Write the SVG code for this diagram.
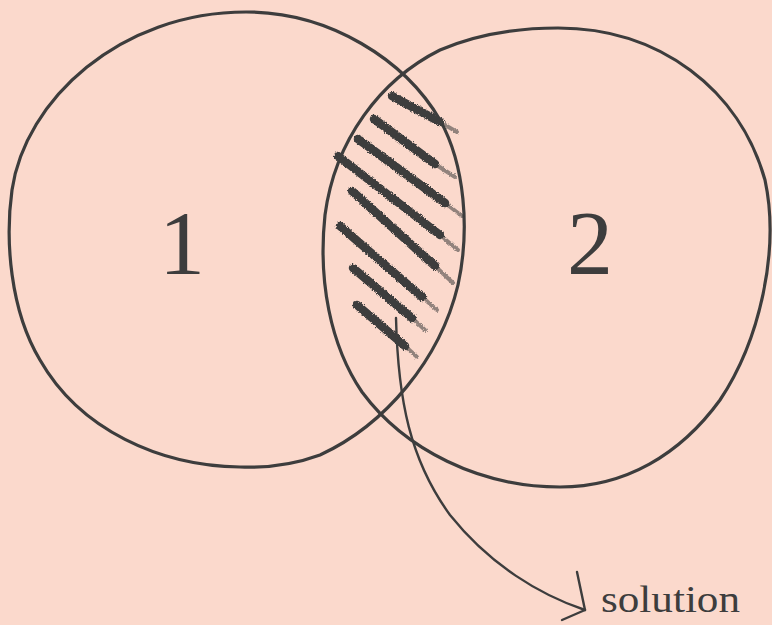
<svg xmlns="http://www.w3.org/2000/svg" width="772" height="625" viewBox="0 0 772 625">
<defs>
<style>
.ring{fill:none;stroke:#3d3d3d;stroke-width:3.2;stroke-linecap:round}
.hatch{fill:none;stroke:#3d3d3d;stroke-width:8.5;stroke-linecap:round}
.hatch2{fill:none;stroke:#3d3d3d;stroke-width:4;stroke-linecap:round;opacity:.55}
.conn{fill:none;stroke:#3d3d3d;stroke-width:2.4;stroke-linecap:round;stroke-linejoin:round}
.num{font-family:"Liberation Serif","DejaVu Serif",serif;font-size:92px;fill:#3d3d3d;text-anchor:middle}
.lbl{font-family:"Liberation Serif","DejaVu Serif",serif;font-size:37px;fill:#3d3d3d}
</style>
<filter id="rough" x="-10%" y="-10%" width="120%" height="120%">
<feTurbulence type="fractalNoise" baseFrequency="0.9" numOctaves="2" seed="3" result="n"/>
<feDisplacementMap in="SourceGraphic" in2="n" scale="3.5" xChannelSelector="R" yChannelSelector="G"/>
</filter>
</defs>
<rect width="772" height="625" fill="#fbd9cc"/>
<g id="set1">
<path class="ring" d="M246,12 C330,12 405,60 440,120 C465,165 470,230 458,285 C440,360 385,425 320,455 C290,466 265,468 240,467 C160,466 80,430 40,360 C10,310 5,240 12,190 C25,100 120,12 246,12 Z"/>
<text class="num" x="182" y="274">1</text>
</g>
<g id="set2">
<path class="ring" d="M558,28 C660,28 740,90 765,180 C780,250 760,340 720,400 C680,455 625,487 560,487 C480,487 405,450 362,392 C330,345 318,280 325,215 C335,140 380,80 440,50 C475,35 515,28 558,28 Z"/>
<text class="num" x="590" y="274">2</text>
</g>
<g id="intersection" filter="url(#rough)">
<path class="hatch" d="M392,96 L440,122"/><path class="hatch2" d="M440,122 L457,132"/>
<path class="hatch" d="M374,119 L435,164"/><path class="hatch2" d="M435,164 L455,177"/>
<path class="hatch" d="M358,139 L445,203"/><path class="hatch2" d="M445,203 L462,216"/>
<path class="hatch" d="M338,156 L440,235"/><path class="hatch2" d="M440,235 L458,250"/>
<path class="hatch" d="M352,191 L435,266"/><path class="hatch2" d="M435,266 L453,283"/>
<path class="hatch" d="M340,226 L422,297"/><path class="hatch2" d="M422,297 L437,310"/>
<path class="hatch" d="M353,268 L412,318"/><path class="hatch2" d="M412,318 L425,330"/>
<path class="hatch" d="M357,305 L405,346"/><path class="hatch2" d="M405,346 L417,357"/>
</g>
<g id="connectors">
<path class="conn" d="M396,318 C398,400 410,460 450,515 C490,565 540,595 585,610"/>
<path class="conn" d="M577,572 L585,610 L562,620"/>
</g>
<g id="label">
<text class="lbl" x="601" y="612" textLength="139" lengthAdjust="spacingAndGlyphs">solution</text>
</g>
</svg>
